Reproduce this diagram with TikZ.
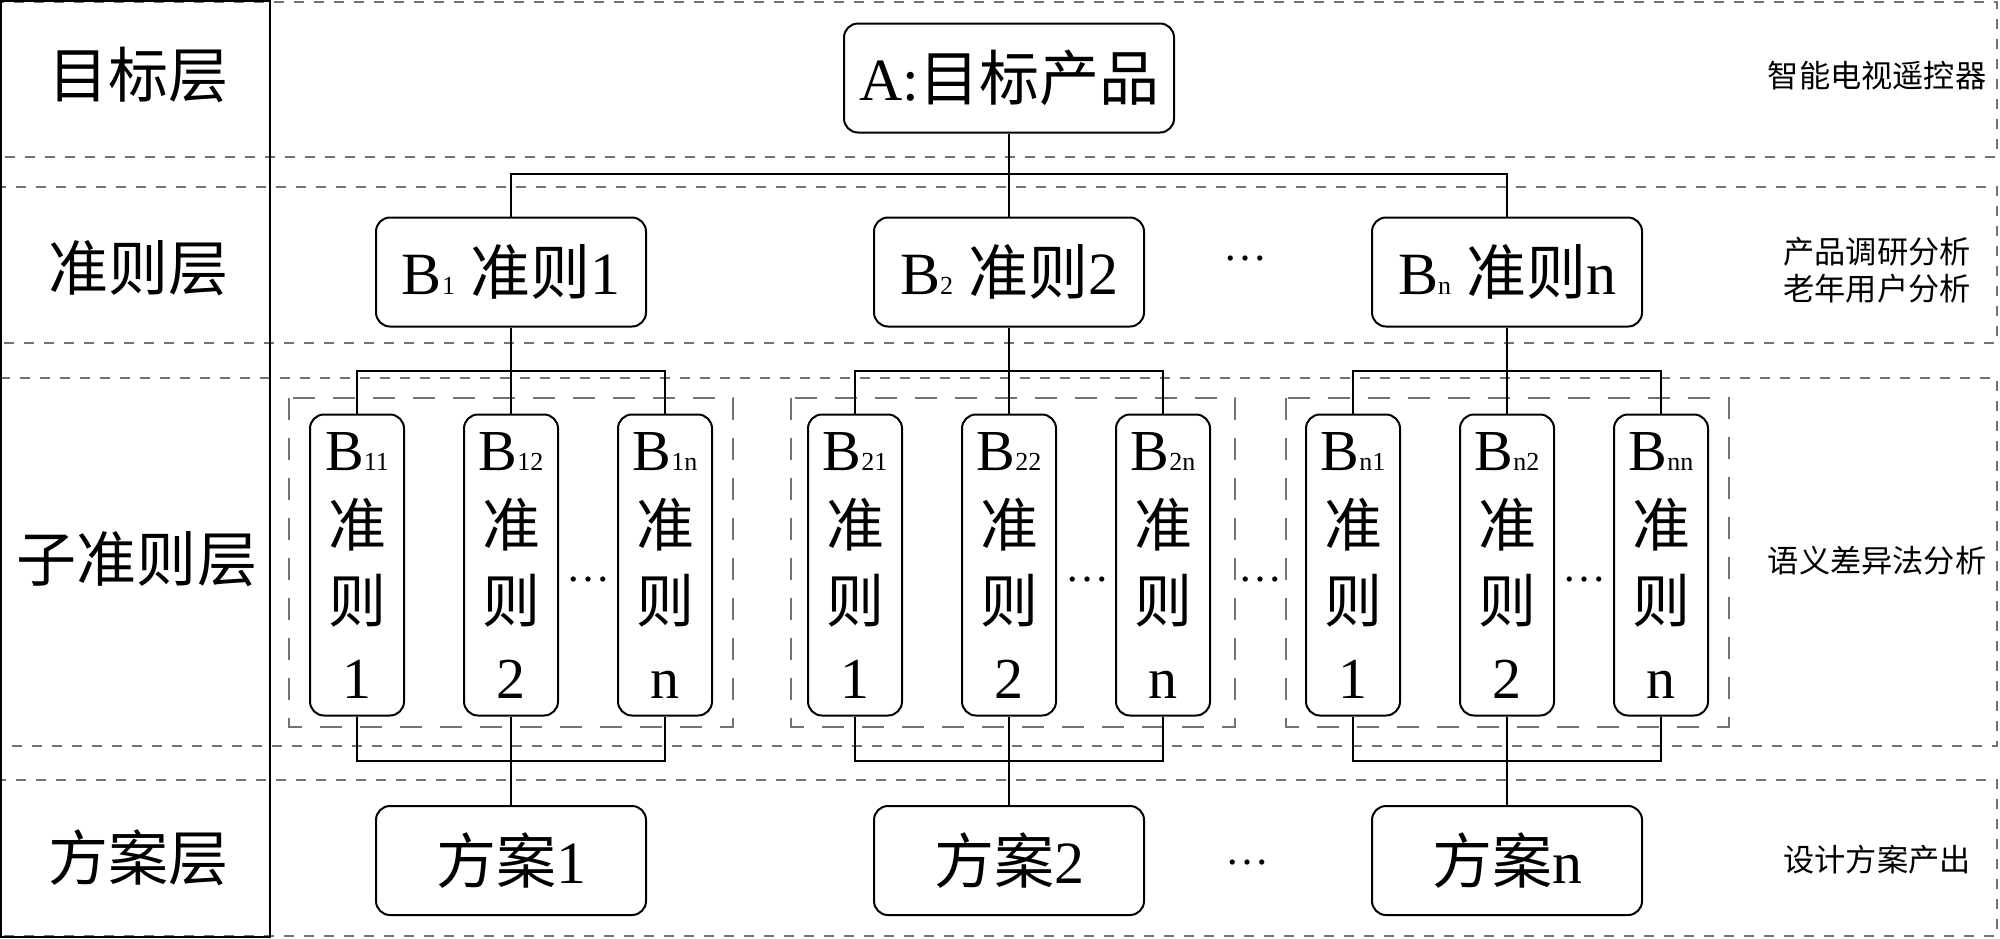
\documentclass[tikz,border=0pt]{standalone}
\usepackage{fontspec}
\setmainfont{Liberation Serif}
\newfontfamily\cjk{Noto Sans CJK SC}
\newcommand\zh[1]{{\cjk #1}}
\newcommand\lsub[1]{{\fontsize{13}{13}\selectfont #1}}
\begin{document}
\begin{tikzpicture}[x=0.5pt,y=-0.5pt,
  layer/.style={draw=black!55, dash pattern=on 5pt off 5pt, line width=0.9pt},
  grp/.style={draw=black!55, dash pattern=on 11pt off 9pt, line width=0.7pt},
  bigbox/.style={draw, line width=1pt, rounded corners=7pt, minimum width=135pt, minimum height=54.5pt, inner sep=0pt, font=\fontsize{30}{36}\selectfont},
  subbox/.style={draw, line width=1pt, rounded corners=7pt, minimum width=47pt, minimum height=150.5pt, inner sep=0pt, align=center, font=\fontsize{29}{38}\selectfont},
  conn/.style={line width=1pt},
  lbl/.style={font=\fontsize{30}{36}\selectfont\cjk, inner sep=0pt},
  note/.style={font=\fontsize{15.6}{18.5}\selectfont\cjk, align=center, inner sep=0pt},
  dots/.style={font=\fontsize{22}{22}\selectfont, inner sep=0pt}
]
\useasboundingbox (0,0) rectangle (2000,938);
% layers
\draw[layer] (0,2) rectangle (1997,157);
\draw[layer] (0,187) rectangle (1997,343);
\draw[layer] (0,378) rectangle (1997,746);
\draw[layer] (0,780) rectangle (1997,936);
\draw[line width=1pt] (1,1) rectangle (270,937);
% group frames
\draw[grp] (289,398) rectangle (733,727);
\draw[grp] (791,398) rectangle (1235,727);
\draw[grp] (1286,398) rectangle (1729,727);
% left labels
\node[lbl] (L1) at (138,75) {目标层};
\node[lbl] (L2) at (138,268) {准则层};
\node[lbl] (L3) at (137,559) {子准则层};
\node[lbl] (L4) at (138,858) {方案层};
% right notes
\node[note] (N1) at (1877,76) {智能电视遥控器};
\node[note] (N2) at (1877,270) {产品调研分析\\老年用户分析};
\node[note] (N3) at (1877,561) {语义差异法分析};
\node[note] (N4) at (1877,860) {设计方案产出};
% main nodes
\node[bigbox, minimum width=165pt] (A) at (1009,78) {A:\zh{目标产品}};
\node[bigbox] (B1) at (511,272) {B\lsub{1} \zh{准则}1};
\node[bigbox] (B2) at (1009,272) {B\lsub{2} \zh{准则}2};
\node[bigbox] (B3) at (1507,272) {B\lsub{n} \zh{准则}n};
\node[dots] (d1) at (1245,259) {…};
% sub nodes
\node[subbox] (S11) at (357,565) {B\lsub{11}\\\zh{准}\\\zh{则}\\1};
\node[subbox] (S12) at (511,565) {B\lsub{12}\\\zh{准}\\\zh{则}\\2};
\node[subbox] (S13) at (665,565) {B\lsub{1n}\\\zh{准}\\\zh{则}\\n};
\node[subbox] (S21) at (855,565) {B\lsub{21}\\\zh{准}\\\zh{则}\\1};
\node[subbox] (S22) at (1009,565) {B\lsub{22}\\\zh{准}\\\zh{则}\\2};
\node[subbox] (S23) at (1163,565) {B\lsub{2n}\\\zh{准}\\\zh{则}\\n};
\node[subbox] (S31) at (1353,565) {B\lsub{n1}\\\zh{准}\\\zh{则}\\1};
\node[subbox] (S32) at (1507,565) {B\lsub{n2}\\\zh{准}\\\zh{则}\\2};
\node[subbox] (S33) at (1661,565) {B\lsub{nn}\\\zh{准}\\\zh{则}\\n};
\node[dots] (d3) at (588,580) {…};
\node[dots] (d4) at (1087,580) {…};
\node[dots] (d5) at (1260,580) {…};
\node[dots] (d6) at (1584,580) {…};
% scheme nodes
\node[bigbox] (F1) at (511,860.5) {\zh{方案}1};
\node[bigbox] (F2) at (1009,860.5) {\zh{方案}2};
\node[bigbox] (F3) at (1507,860.5) {\zh{方案}n};
\node[dots] (d2) at (1247,863) {…};
% connector bars
\coordinate (topbar) at (0,174);
\coordinate (midbar) at (0,371);
\coordinate (lowbar) at (0,761);
\draw[conn] (A.south) -- (B2.north);
\draw[conn] (B1.north) -- (B1.north |- topbar) -| (B3.north);
\foreach \g in {1,2,3}{
  \draw[conn] (B\g.south) -- (S\g2.north);
  \draw[conn] (S\g1.north) -- (S\g1.north |- midbar) -| (S\g3.north);
  \draw[conn] (S\g1.south) -- (S\g1.south |- lowbar) -| (S\g3.south);
  \draw[conn] (S\g2.south) -- (F\g.north);
}
\end{tikzpicture}
\end{document}
